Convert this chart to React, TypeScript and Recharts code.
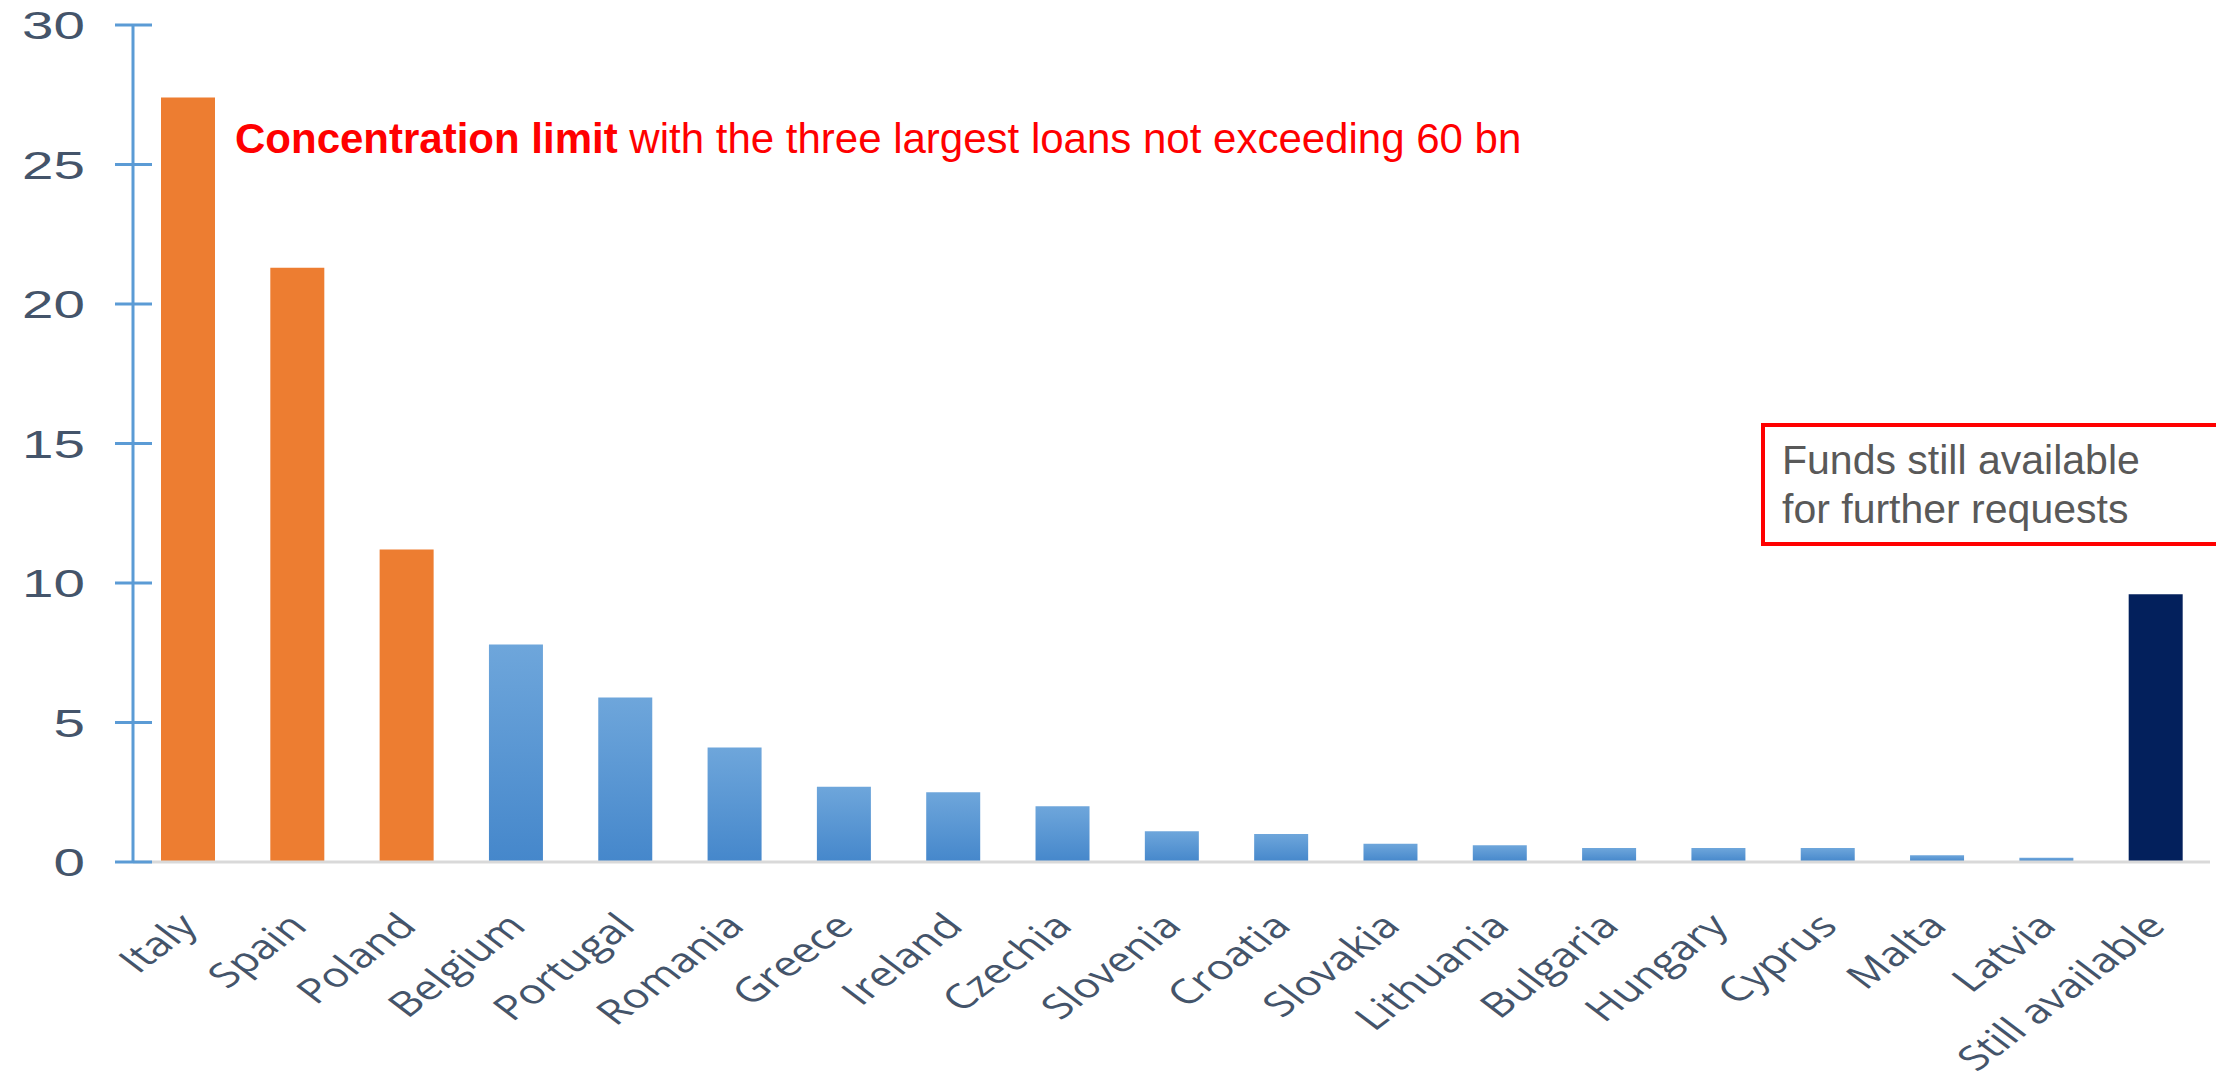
import React from 'react';
import { BarChart, Bar, XAxis, YAxis, Cell } from 'recharts';

const categories = [
  'Italy', 'Spain', 'Poland', 'Belgium', 'Portugal', 'Romania', 'Greece', 'Ireland', 'Czechia',
  'Slovenia', 'Croatia', 'Slovakia', 'Lithuania', 'Bulgaria', 'Hungary', 'Cyprus', 'Malta', 'Latvia',
  'Still available',
];
const loanValues = [27.4, 21.3, 11.2, 7.8, 5.9, 4.1, 2.7, 2.5, 2.0, 1.1, 1.0, 0.65, 0.6, 0.5, 0.5, 0.5, 0.24, 0.15, 9.6];
const barKinds = [
  'top', 'top', 'top', 'other', 'other', 'other', 'other', 'other', 'other',
  'other', 'other', 'other', 'other', 'other', 'other', 'other', 'other', 'other',
  'available',
];
const yTicks = [0, 5, 10, 15, 20, 25, 30];

const headlineBold = 'Concentration limit';
const headlineRest = ' with the three largest loans not exceeding 60 bn';
const boxLines = ['Funds still available', 'for further requests'];

const data = categories.map((c, i) => ({ name: c, value: loanValues[i], kind: barKinds[i] }));

const kindFill: Record<string, string> = {
  top: '#ed7d31',
  other: 'url(#blueGrad)',
  available: '#03205c',
};

const YTick = (props: any) => {
  const { x, y, payload } = props;
  return (
    <g>
      <line x1={x - 18} x2={x + 19} y1={y} y2={y} stroke="#5b9bd5" strokeWidth={3} />
      <text
        transform={`translate(${x - 48},${y + 14}) scale(1.45,1)`}
        textAnchor="end"
        fontSize={39}
        fontFamily="Liberation Sans"
        fill="#44546a"
      >
        {payload.value}
      </text>
    </g>
  );
};

const XTick = (props: any) => {
  const { x, y, payload } = props;
  return (
    <text
      transform={`translate(${x + 12},${y + 66}) scale(1.32,1) rotate(-45)`}
      textAnchor="end"
      fontSize={34}
      fontFamily="Open Sans"
      fill="#44546a"
    >
      {payload.value}
    </text>
  );
};

export default function App() {
  return (
    <div style={{ position: 'absolute', left: 0, top: 0, width: 2216, height: 1081, background: '#fff' }}>
      <svg width={0} height={0} style={{ position: 'absolute' }}>
        <defs>
          <linearGradient id="blueGrad" x1="0" y1="0" x2="0" y2="1">
            <stop offset="0%" stopColor="#6ea6db" />
            <stop offset="100%" stopColor="#4587cb" />
          </linearGradient>
        </defs>
      </svg>
      <BarChart
        width={2216}
        height={1081}
        data={data}
        margin={{ top: 25, right: 6, left: 0, bottom: 0 }}
        barSize={54}
      >
        <XAxis
          dataKey="name"
          interval={0}
          height={219}
          tickSize={0}
          tickMargin={0}
          tickLine={false}
          axisLine={{ stroke: '#d9d9d9', strokeWidth: 3 }}
          tick={<XTick />}
        />
        <YAxis
          width={133}
          domain={[0, 30]}
          ticks={yTicks}
          interval={0}
          tickSize={0}
          tickMargin={0}
          tickLine={false}
          axisLine={{ stroke: '#5b9bd5', strokeWidth: 3 }}
          tick={<YTick />}
        />
        <Bar dataKey="value" isAnimationActive={false}>
          {data.map((d, i) => (
            <Cell key={i} fill={kindFill[d.kind]} />
          ))}
        </Bar>
      </BarChart>
      <svg
        width={2216}
        height={1081}
        style={{ position: 'absolute', left: 0, top: 0, pointerEvents: 'none' }}
      >
        <text x={235} y={153} fontSize={42} fontFamily="Liberation Sans" fill="#ff0000">
          <tspan fontWeight="bold">{headlineBold}</tspan>
          <tspan>{headlineRest}</tspan>
        </text>
        <rect x={1763} y={425} width={480} height={119} fill="none" stroke="#ff0000" strokeWidth={4} />
        {boxLines.map((t, i) => (
          <text key={i} x={1782} y={474 + i * 49} fontSize={41} fontFamily="Liberation Sans" fill="#595959">
            {t}
          </text>
        ))}
      </svg>
    </div>
  );
}
